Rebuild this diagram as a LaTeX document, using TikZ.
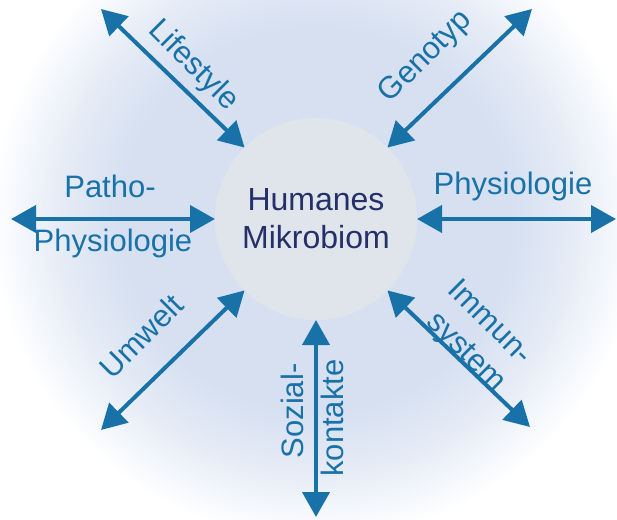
\documentclass[tikz,border=0pt]{standalone}
\usepackage{fontspec}
\setmainfont{Liberation Sans}
\usetikzlibrary{arrows.meta}
\definecolor{bgblue}{HTML}{D6E0F1}
\definecolor{hubfill}{HTML}{DFE5EA}
\definecolor{arrowblue}{HTML}{1872A8}
\definecolor{hubtext}{HTML}{25306A}
\pgfdeclareradialshading{bgfade}{\pgfpoint{0bp}{0bp}}{color(0bp)=(bgblue); color(15bp)=(bgblue); color(20bp)=(bgblue!60!white); color(25bp)=(white); color(50bp)=(white)}
\begin{document}
\begin{tikzpicture}[x=1pt,y=-1pt,
  hub/.style={circle, fill=hubfill, minimum size=202pt, inner sep=0pt, outer sep=0pt,
    text=hubtext, align=center, font=\fontsize{32}{38}\selectfont},
  lbl/.style={text=arrowblue, inner sep=0pt, font=\fontsize{31}{38}\selectfont},
  link/.style={draw=arrowblue, line width=4pt,
    {Triangle[length=25pt,width=27pt]}-{Triangle[length=25pt,width=27pt]}}]
\useasboundingbox (0,0) rectangle (617,519);
\fill[white] (0,0) rectangle (617,519);
\begin{scope}
\clip (0,0) rectangle (617,519);
\shade[shading=bgfade] (316,219) ellipse [x radius=325, y radius=320];
\end{scope}
\node[hub] (c) at (316,219) {Humanes\\Mikrobiom};
% outer ends
\coordinate (oLife) at (101,9);
\coordinate (oGeno) at (532,9);
\coordinate (oPhys) at (616,219);
\coordinate (oPath) at (11,219);
\coordinate (oUmw) at (101,430);
\coordinate (oSoz) at (316,517);
\coordinate (oImm) at (530,427);
\draw[link] (oLife) -- (c.135);
\draw[link] (oGeno) -- (c.45);
\draw[link] (c.0) -- (oPhys);
\draw[link] (oPath) -- (c.180);
\draw[link] (oUmw) -- (c.225);
\draw[link] (c.270) -- (oSoz);
\draw[link] (c.315) -- (oImm);
% labels
\node[lbl, rotate=-45] (tLife) at (193,66) {Lifestyle};
\node[lbl, rotate=45] (tGeno) at (426,57) {Genotyp};
\node[lbl, anchor=base] (tPhys) at (513,194) {Physiologie};
\node[lbl, anchor=base] (tPatA) at (110,197) {Patho-};
\node[lbl, anchor=base] (tPatB) at (113,251) {Physiologie};
\node[lbl, rotate=45] (tUmw) at (141,336) {Umwelt};
\node[lbl, rotate=-45] (tImmA) at (491,321) {Immun-};
\node[lbl, rotate=-45] (tImmB) at (465,353) {system};
\node[lbl, rotate=90] (tSozA) at (292,411) {Sozial-};
\node[lbl, rotate=90] (tSozB) at (332,418) {kontakte};
\end{tikzpicture}
\end{document}
